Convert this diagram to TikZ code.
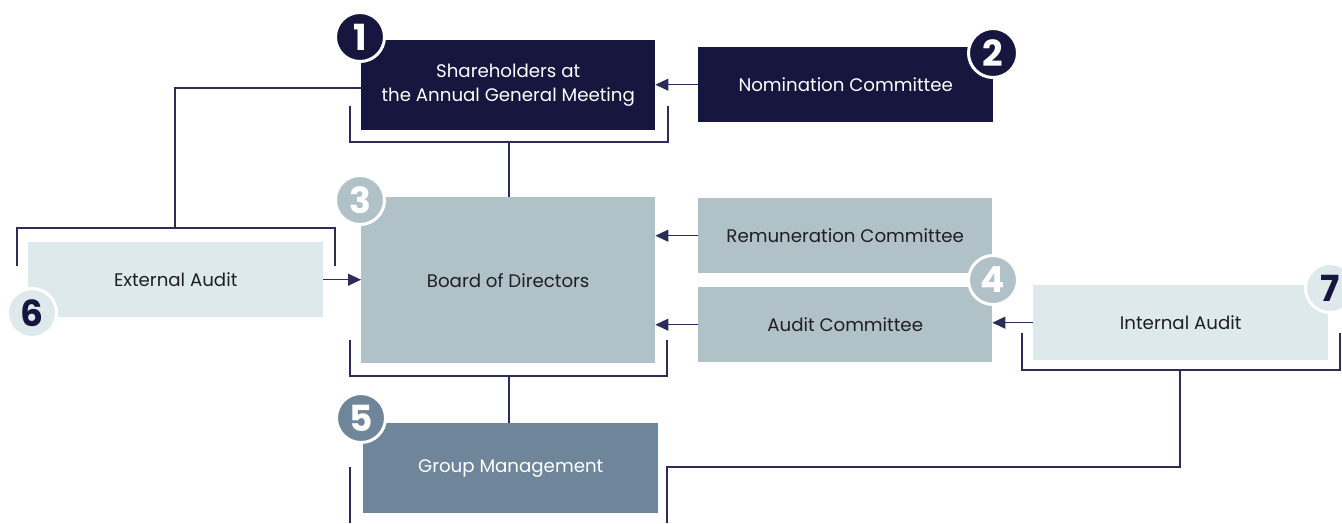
\documentclass[tikz,border=0pt]{standalone}
\usepackage{fontspec}
\setmainfont{Poppins}
\usetikzlibrary{arrows.meta,calc}

\definecolor{navy}{HTML}{16163F}
\definecolor{linec}{HTML}{2C2C58}
\definecolor{boardc}{HTML}{B0C1C8}
\definecolor{lightc}{HTML}{DDE9EA}
\definecolor{gmc}{HTML}{6F8599}
\definecolor{textd}{HTML}{1E1E24}

\begin{document}
\begin{tikzpicture}[x=1pt,y=-1pt,
  box/.style={anchor=north west, inner sep=0pt, align=center,
    font=\fontsize{18.2}{24}\selectfont},
  darkbox/.style={box, fill=navy, text=white},
  midbox/.style={box, fill=boardc, text=textd},
  lightbox/.style={box, fill=lightc, text=textd},
  link/.style={draw=linec, line width=1.4pt},
  arr/.style={link, -{Triangle[length=13pt,width=12pt]}},
  badge/.style={circle, minimum size=49pt, inner sep=0pt, draw=white,
    line width=3pt, font=\fontsize{36}{36}\selectfont\bfseries}]
\useasboundingbox (0,0) rectangle (1342,523);

% boxes
\node[darkbox, minimum width=294pt, minimum height=90pt] (agm) at (361,40)
  {Shareholders at\\the Annual General Meeting};
\node[darkbox, minimum width=295pt, minimum height=75pt] (nom) at (698,47)
  {Nomination Committee};
\node[midbox, minimum width=294pt, minimum height=166pt] (board) at (361,197)
  {Board of Directors};
\node[midbox, minimum width=294pt, minimum height=75pt] (rem) at (698,198)
  {Remuneration Committee};
\node[midbox, minimum width=294pt, minimum height=75pt] (ac) at (698,287)
  {Audit Committee};
\node[lightbox, minimum width=295pt, minimum height=75pt] (ea) at (28,242)
  {External Audit};
\node[lightbox, minimum width=295pt, minimum height=75pt] (ia) at (1033,285)
  {Internal Audit};
\node[box, fill=gmc, text=white, minimum width=295pt, minimum height=90pt] (gm) at (363,423)
  {Group Management};

% arrows into boxes
\draw[arr] (nom.west) -- (nom.west -| agm.east);
\draw[arr] (rem.west) -- (rem.west -| board.east);
\draw[arr] (ac.west) -- (ac.west -| board.east);
\draw[arr] (ia.west) -- (ia.west -| ac.east);
\draw[arr] (ea.east) -- (ea.east -| board.west);

% bracket points
\coordinate (agmL) at (361,88);
\coordinate (agmB) at (509,142);
\coordinate (eaB) at (175,228);
\coordinate (boardB) at (509,376);
\coordinate (iaB) at (1180,370);
\coordinate (gmR) at (667,523);

% brackets
\draw[link] (350,106) -- (350,142) -- (668,142) -- (668,106);
\draw[link] (17,266) -- (17,228) -- (335,228) -- (335,266);
\draw[link] (350,340) -- (350,376) -- (667,376) -- (667,340);
\draw[link] (1022,333) -- (1022,370) -- (1340,370) -- (1340,333);
\draw[link] (350,467) -- (350,523);

% connectors
\draw[link] (agmB) -- (agmB |- board.north);
\draw[link] (agmL) -| (eaB);
\draw[link] (boardB) -- (boardB |- gm.north);
\draw[link] (iaB) -- (1180,467) -| (gmR);

% numbered badges
\node[badge, fill=navy, text=white] (b1) at (360,37) {1};
\node[badge, fill=navy, text=white] (b2) at (993,53) {2};
\node[badge, fill=boardc, text=white] (b3) at (360,200) {3};
\node[badge, fill=boardc, text=white] (b4) at (993,280) {4};
\node[badge, fill=gmc, text=white] (b5) at (361,418) {5};
\node[badge, fill=lightc, text=navy] (b6) at (32,313) {6};
\node[badge, fill=lightc, text=navy] (b7) at (1330,288) {7};
\end{tikzpicture}
\end{document}
